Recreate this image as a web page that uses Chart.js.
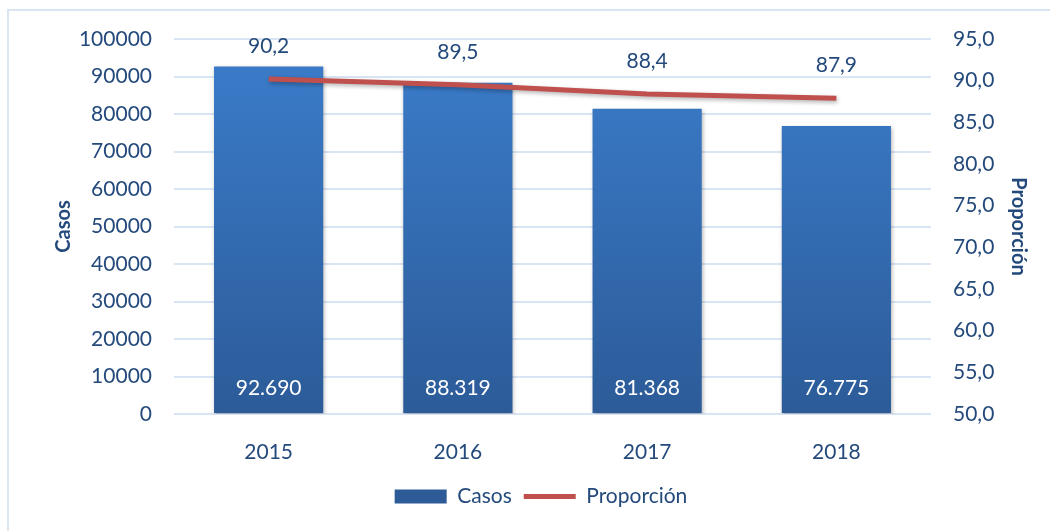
<!DOCTYPE html>
<html>
  <head>
    <meta charset="utf-8">
    <title>Casos y Proporción</title>
    <script src="https://cdn.jsdelivr.net/npm/chart.js"></script>
    <style>
      body { margin: 0; overflow: hidden; background: #fff; }
      #frame { position: absolute; left: 7px; top: 9px; width: 1100px; height: 600px; border: 2px solid #dae5f2; }
      #wrap { position: absolute; left: 0; top: 0; width: 1050px; height: 531px; }
    </style>
  </head>
  <body>
    <div id="frame"></div>
    <div id="wrap"><canvas id="chart" width="1050" height="531"></canvas></div>
    <script>
      const years = ["2015", "2016", "2017", "2018"];
      const casos = [92690, 88319, 81368, 76775];
      const proporcion = [90.2, 89.5, 88.4, 87.9];

      const textColor = "#244a7c";
      const fontFamily = "Lato, 'Open Sans', sans-serif";

      function barGradient(context) {
        const area = context.chart.chartArea;
        if (!area) return "#3570b8";
        const g = context.chart.ctx.createLinearGradient(0, area.top, 0, area.bottom);
        g.addColorStop(0, "#3b7dcc");
        g.addColorStop(1, "#2c5b98");
        return g;
      }

      const fmtCasos = (v) => v.toLocaleString("de-DE");
      const fmtProp = (v) => v.toFixed(1).replace(".", ",");

      // value labels: inside bars at bottom, above line points
      const labelsPlugin = {
        id: "valueLabels",
        afterDatasetsDraw(chart) {
          const ctx = chart.ctx;
          ctx.save();
          ctx.font = "21px " + fontFamily;
          ctx.textAlign = "center";
          ctx.textBaseline = "middle";
          const barMeta = chart.getDatasetMeta(1);
          barMeta.data.forEach((el, i) => {
            ctx.fillStyle = "#ffffff";
            ctx.fillText(fmtCasos(casos[i]), el.x, el.base - 25);
          });
          const lineMeta = chart.getDatasetMeta(0);
          lineMeta.data.forEach((el, i) => {
            ctx.fillStyle = textColor;
            ctx.fillText(fmtProp(proporcion[i]), el.x, el.y - 33);
          });
          ctx.restore();
        },
      };

      // soft shadow under bars and line
      const shadowPlugin = {
        id: "shadow",
        beforeDatasetDraw(chart) {
          const ctx = chart.ctx;
          ctx.save();
          ctx.shadowColor = "rgba(0,0,0,0.3)";
          ctx.shadowBlur = 4;
          ctx.shadowOffsetX = 1;
          ctx.shadowOffsetY = 2;
        },
        afterDatasetDraw(chart) {
          chart.ctx.restore();
        },
      };

      const ctx = document.getElementById("chart").getContext("2d");
      new Chart(ctx, {
        data: {
          labels: years,
          datasets: [
            {
              type: "line",
              label: "Proporción",
              data: proporcion,
              yAxisID: "y1",
              borderColor: "#c0504d",
              backgroundColor: "#c0504d",
              borderWidth: 5,
              pointRadius: 0,
              pointHoverRadius: 0,
              pointStyle: "line",
              tension: 0,
              order: 0,
            },
            {
              type: "bar",
              label: "Casos",
              data: casos,
              yAxisID: "y",
              backgroundColor: barGradient,
              categoryPercentage: 1,
              barPercentage: 0.577,
              pointStyle: "rect",
              order: 1,
            },
          ],
        },
        options: {
          responsive: false,
          animation: false,
          layout: { padding: { left: 48, right: 16, top: 39, bottom: 14 } },
          plugins: {
            tooltip: { enabled: false },
            legend: {
              position: "bottom",
              reverse: true,
              labels: {
                usePointStyle: true,
                pointStyleWidth: 52,
                boxHeight: 14,
                color: textColor,
                font: { family: fontFamily, size: 21 },
                padding: 12,
              },
            },
          },
          scales: {
            x: {
              grid: { display: false },
              border: { display: false },
              ticks: { color: textColor, font: { family: fontFamily, size: 21 }, padding: 18 },
              afterFit: (s) => { s.height = 60; },
            },
            y: {
              position: "left",
              min: 0,
              max: 100000,
              ticks: { stepSize: 10000, color: textColor, font: { family: fontFamily, size: 21 }, padding: 22, callback: (v) => String(v) },
              grid: { color: "#d9e5f4", lineWidth: 2, drawTicks: false },
              border: { display: false },
              title: { display: true, text: "Casos", color: textColor, font: { family: fontFamily, size: 20, weight: "bold" } },
              afterFit: (s) => { s.width = 126; },
            },
            y1: {
              position: "right",
              min: 50,
              max: 95,
              ticks: { stepSize: 5, color: textColor, font: { family: fontFamily, size: 21 }, padding: 22, callback: (v) => fmtProp(v) },
              grid: { display: false, drawTicks: false },
              border: { display: false },
              title: { display: true, text: "Proporción", color: textColor, font: { family: fontFamily, size: 20, weight: "bold" } },
              afterFit: (s) => { s.width = 103; },
            },
          },
        },
        plugins: [shadowPlugin, labelsPlugin],
      });
    </script>
  </body>
</html>
